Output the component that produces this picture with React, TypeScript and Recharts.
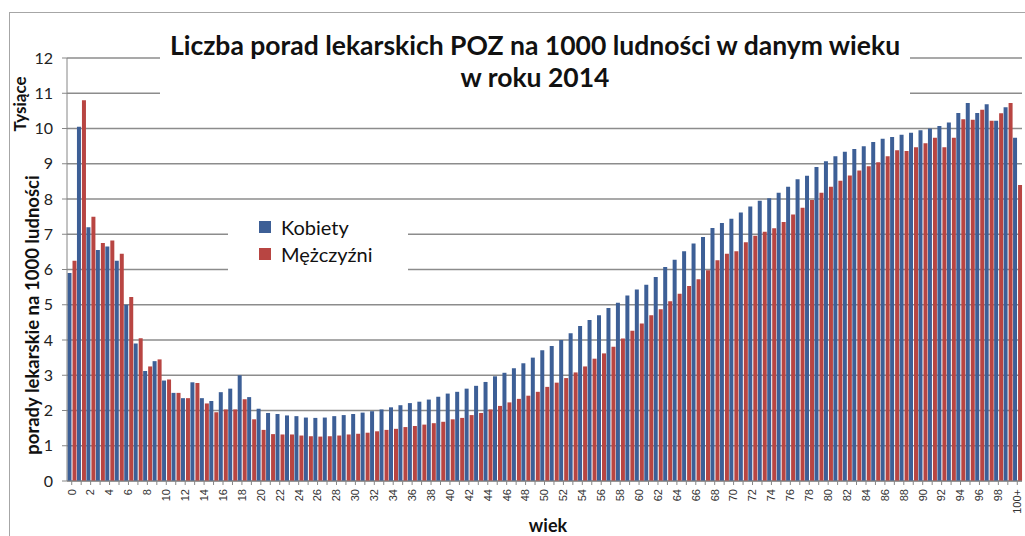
import { Bar, BarChart, CartesianGrid, XAxis, YAxis } from "recharts";

const ages = Array.from({ length: 101 }, (_, i) => (i === 100 ? "100+" : String(i)));

const kobiety = [
  5.9, 10.05, 7.2, 6.55, 6.65, 6.25, 5.0, 3.9, 3.12, 3.4,
  2.85, 2.5, 2.35, 2.8, 2.35, 2.27, 2.52, 2.62, 3.0, 2.38,
  2.05, 1.93, 1.9, 1.86, 1.84, 1.8, 1.79, 1.8, 1.84, 1.87,
  1.9, 1.94, 1.98, 2.03, 2.09, 2.15, 2.21, 2.25, 2.31, 2.39,
  2.48, 2.53, 2.62, 2.7, 2.81, 2.97, 3.07, 3.2, 3.34, 3.5,
  3.71, 3.83, 4.0, 4.19, 4.4, 4.57, 4.7, 4.91, 5.06, 5.26,
  5.43, 5.57, 5.79, 6.07, 6.28, 6.52, 6.74, 6.92, 7.18, 7.32,
  7.44, 7.62, 7.79, 7.95, 8.02, 8.18, 8.35, 8.56, 8.66, 8.91,
  9.07, 9.21, 9.34, 9.42, 9.5, 9.62, 9.71, 9.76, 9.82, 9.88,
  9.95, 10.0, 10.07, 10.17, 10.44, 10.72, 10.44, 10.69, 10.22, 10.6,
  9.74,
];

const mezczyzni = [
  6.25, 10.8, 7.5, 6.75, 6.82, 6.45, 5.22, 4.05, 3.25, 3.45,
  2.88, 2.5, 2.35, 2.78, 2.2, 1.95, 2.03, 2.03, 2.32, 1.75,
  1.45, 1.33, 1.32, 1.32, 1.29, 1.27, 1.26, 1.27, 1.29, 1.32,
  1.34, 1.37, 1.41, 1.45, 1.48, 1.53, 1.56, 1.6, 1.64, 1.68,
  1.75, 1.79, 1.87, 1.93, 2.03, 2.13, 2.23, 2.33, 2.42, 2.53,
  2.67, 2.79, 2.92, 3.08, 3.25, 3.47, 3.62, 3.81, 4.04, 4.26,
  4.47, 4.7, 4.87, 5.1, 5.31, 5.53, 5.72, 5.98, 6.26, 6.45,
  6.52, 6.77, 6.96, 7.07, 7.17, 7.35, 7.56, 7.75, 7.97, 8.18,
  8.35, 8.52, 8.67, 8.81, 8.93, 9.04, 9.21, 9.38, 9.36, 9.47,
  9.58, 9.74, 9.47, 9.74, 10.26, 10.25, 10.53, 10.22, 10.43, 10.72,
  8.4,
];

const yTicks = [0, 1, 2, 3, 4, 5, 6, 7, 8, 9, 10, 11, 12];

const data = ages.map((wiek, i) => ({ wiek, k: kobiety[i], m: mezczyzni[i] }));

const BLUE = "#3D5F96";
const RED = "#B84542";
const FONT = "Lato, 'Open Sans', sans-serif";

function AgeTick({ x, y, payload, index }: any) {
  if (index % 2 !== 0) return null;
  return (
    <g transform={`translate(${x},${y + 2})`}>
      <text
        transform="rotate(-90)"
        textAnchor="end"
        dy="0.35em"
        fontSize={11}
        fill="#333"
        fontFamily="'Liberation Sans', Arial, sans-serif"
      >
        {payload.value}
      </text>
    </g>
  );
}

export default function App() {
  return (
    <div
      style={{
        position: "absolute",
        left: 0,
        top: 0,
        width: 1025,
        height: 536,
        overflow: "hidden",
        background: "#fff",
        fontFamily: FONT,
      }}
    >
      <div
        style={{
          position: "absolute",
          left: 9,
          top: 12,
          width: 1100,
          height: 600,
          borderLeft: "1.5px solid #a6a6a6",
          borderTop: "1.5px solid #a6a6a6",
        }}
      />
      <BarChart
        width={1025}
        height={536}
        data={data}
        margin={{ top: 58, right: 3, bottom: 10, left: 27 }}
        barCategoryGap={0.5}
        barGap={1}
      >
        <CartesianGrid vertical={false} stroke="#8c8c8c" strokeWidth={1.3} />
        <XAxis
          dataKey="wiek"
          interval={0}
          height={45}
          tick={<AgeTick />}
          tickSize={4}
          axisLine={{ stroke: "#868686" }}
          tickLine={{ stroke: "#868686" }}
        />
        <YAxis
          width={40}
          domain={[0, 12]}
          ticks={yTicks}
          interval={0}
          tickSize={5}
          tickMargin={9}
          axisLine={{ stroke: "#868686" }}
          tickLine={{ stroke: "#868686" }}
          tick={{ fill: "#222", fontSize: 16, fontFamily: FONT }}
        />
        <Bar dataKey="k" name="Kobiety" fill={BLUE} isAnimationActive={false} />
        <Bar dataKey="m" name="Mężczyźni" fill={RED} isAnimationActive={false} />
      </BarChart>

      {/* title box, covers the gridlines like in the original */}
      <div
        style={{
          position: "absolute",
          left: 160,
          top: 27,
          width: 750,
          height: 76,
          background: "#fff",
          textAlign: "center",
          fontWeight: 700,
          fontSize: 26.5,
          lineHeight: "32px",
          color: "#111",
          paddingTop: 2,
        }}
      >
        Liczba porad lekarskich POZ na 1000 ludności w danym wieku
        <br />w roku 2014
      </div>

      {/* legend */}
      <div
        style={{
          position: "absolute",
          left: 228,
          top: 208,
          width: 180,
          height: 68,
          background: "#fff",
          fontSize: 20,
          color: "#111",
        }}
      >
        <div style={{ display: "flex", alignItems: "center", marginTop: 7, marginLeft: 31 }}>
          <span style={{ width: 12, height: 12, background: BLUE, marginRight: 10 }} />
          Kobiety
        </div>
        <div style={{ display: "flex", alignItems: "center", marginTop: 3, marginLeft: 31 }}>
          <span style={{ width: 12, height: 12, background: RED, marginRight: 10 }} />
          Mężczyźni
        </div>
      </div>

      <div
        style={{
          position: "absolute",
          left: 19,
          top: 104,
          transform: "translate(-50%, -50%) rotate(-90deg)",
          fontWeight: 700,
          fontSize: 17,
          whiteSpace: "nowrap",
          color: "#111",
        }}
      >
        Tysiące
      </div>
      <div
        style={{
          position: "absolute",
          left: 32,
          top: 315,
          transform: "translate(-50%, -50%) rotate(-90deg)",
          fontWeight: 700,
          fontSize: 18.5,
          whiteSpace: "nowrap",
          color: "#111",
        }}
      >
        porady lekarskie na 1000 ludności
      </div>
      <div
        style={{
          position: "absolute",
          left: 548,
          top: 525,
          transform: "translate(-50%, -50%)",
          fontWeight: 700,
          fontSize: 18,
          color: "#111",
        }}
      >
        wiek
      </div>
    </div>
  );
}
